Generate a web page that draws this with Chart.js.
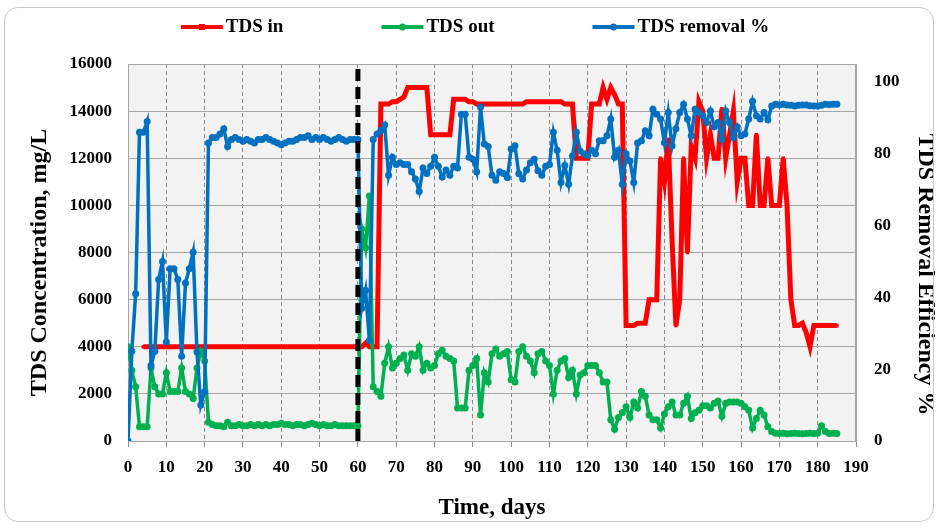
<!DOCTYPE html>
<html>
<head>
<meta charset="utf-8">
<title>TDS in / TDS out / TDS removal %</title>
<script src="https://cdn.jsdelivr.net/npm/chart.js@4.4.1/dist/chart.umd.min.js"></script>
<style>
  html, body { margin: 0; padding: 0; background: #fff; }
  #wrap { position: relative; width: 939px; height: 525px; }
  /* rounded chart-area frame like the spreadsheet export */
  #frame { position: absolute; left: 4px; top: 7px; width: 928px; height: 513px;
           border: 1px solid #c8c8c8; border-radius: 14px; pointer-events: none; }
</style>
</head>
<body>
<div id="wrap">
  <canvas id="tds-chart"></canvas>
  <div id="frame"></div>
</div>
<script>
// ---- data (one value per day, day = index) ----
const tdsIn = [
  null, null, null, null, 4000, 4000, 4000, 4000, 4000, 4000,
  4000, 4000, 4000, 4000, 4000, 4000, 4000, 4000, 4000, 4000,
  4000, 4000, 4000, 4000, 4000, 4000, 4000, 4000, 4000, 4000,
  4000, 4000, 4000, 4000, 4000, 4000, 4000, 4000, 4000, 4000,
  4000, 4000, 4000, 4000, 4000, 4000, 4000, 4000, 4000, 4000,
  4000, 4000, 4000, 4000, 4000, 4000, 4000, 4000, 4000, 4000,
  4000, 4000, 4150, 4000, 4000, 4000, 14300, 14300, 14300, 14400,
  14400, 14500, 14600, 15000, 15000, 15000, 15000, 15000, 15000, 13000,
  13000, 13000, 13000, 13000, 13000, 14500, 14500, 14500, 14500, 14400,
  14400, 14300, 14300, 14300, 14300, 14300, 14300, 14300, 14300, 14300,
  14300, 14300, 14300, 14300, 14400, 14400, 14400, 14400, 14400, 14400,
  14400, 14400, 14400, 14400, 14300, 14300, 14300, 12000, 12000, 12000,
  12000, 14300, 14300, 14300, 15000, 14500, 15000, 14700, 14300, 14300,
  4900, 4900, 4900, 5000, 5000, 5000, 6000, 6000, 6000, 12000,
  11000, 12800, 8500, 4900, 6000, 12000, 8000, 12500, 12000, 14400,
  14000, 12000, 13000, 12000, 12000, 14100, 12000, 13000, 14000, 11000,
  12000, 12000, 10000, 10000, 13000, 10000, 10000, 12000, 10000, 10000,
  10000, 12000, 10000, 6000, 4900, 4900, 5000, 4600, 4000, 4900,
  4900, 4900, 4900, 4900, 4900, 4900
];

const tdsOut = [
  4000, 3000, 2300, 600, 600, 600, 3100, 2300, 2000, 2000,
  2900, 2100, 2100, 2100, 3100, 2100, 2000, 1800, 3100, 3800,
  3400, 800, 700, 650, 650, 600, 800, 650, 650, 700,
  650, 650, 700, 650, 700, 650, 700, 650, 700, 700,
  750, 700, 700, 650, 700, 700, 650, 700, 750, 700,
  650, 700, 650, 650, 700, 650, 650, 650, 650, 650,
  650, 9000, 8200, 10400, 2300, 2100, 1900, 3300, 4000, 3100,
  3300, 3500, 3650, 3000, 3700, 3600, 4000, 3000, 3300, 3100,
  3200, 3700, 3850, 3600, 3500, 3400, 1400, 1400, 1400, 3000,
  3200, 3500, 1100, 2900, 2500, 3700, 3900, 3600, 3700, 3800,
  2600, 2500, 3800, 4000, 3600, 3400, 2900, 3700, 3800, 3400,
  3200, 2000, 3000, 3400, 3500, 2700, 3000, 2000, 2800, 2900,
  3200, 3200, 3200, 2900, 2500, 2500, 900, 500, 1000, 1200,
  1450, 1000, 1650, 1400, 2100, 1900, 1100, 900, 900, 550,
  1150, 1450, 1650, 1100, 1100, 1600, 1900, 950, 1200, 1300,
  1500, 1500, 1400, 1600, 1700, 1050, 1600, 1650, 1650, 1650,
  1600, 1450, 1300, 550, 950, 1300, 1100, 600, 400, 330,
  320, 330, 310, 320, 330, 320, 310, 320, 330, 320,
  330, 650, 400, 320, 330, 320
];

const removalPct = [
  0, 25, 41, 86, 86, 89, 21, 25, 45, 50,
  27.6, 48, 48, 45, 23.6, 44, 48, 52.6, 24.8, 10,
  13.7, 83, 84.5, 84.5, 85.5, 87, 82, 84, 84.5, 84,
  83.5, 84, 83.5, 83, 84, 84, 84.5, 84, 83.5, 83,
  82.5, 83, 83.5, 83.5, 84, 84.5, 84.5, 85, 84, 84.5,
  84, 84.5, 84, 83.5, 84, 84.5, 84, 83.5, 84, 84,
  84, 37, 42, 28, 84, 85.5, 86.5, 88, 74, 79,
  77, 77.5, 77, 77, 75, 73, 69.5, 76, 74.5, 76.5,
  79, 76.5, 73.5, 75.5, 74, 76.5, 76, 91, 91, 79,
  78.5, 75, 93, 82.7, 82, 74, 72.6, 75, 74.5, 73.4,
  81.3, 82.2, 74.4, 73, 75.5, 77.5, 78.5, 75.3, 74, 76.5,
  77, 86, 81, 72, 76.7, 71.5, 79.4, 86, 80.8, 80,
  79.5, 81, 80, 83.6, 83.6, 85, 89.7, 79, 81, 71.5,
  80, 78, 72, 83, 83.6, 86.4, 85, 92.4, 91, 89.7,
  83.1, 91.5, 82.2, 87, 91.5, 93.8, 89.7, 85, 92.4, 91.5,
  90.6, 88.7, 91.9, 87.5, 88.7, 84.1, 91.9, 88.7, 84.5, 87.5,
  85, 85.5, 89.7, 94.6, 90.6, 89.7, 91.5, 89.5, 93.3, 93.8,
  93.6, 93.8, 93.6, 93.5, 93.3, 93.5, 93.6, 93.6, 93.4, 93.3,
  93.3, 93.5, 93.8, 93.7, 93.8, 93.8
];

const phaseChangeDay = 60;   // dashed black separator
const seriesNames = ['TDS in', 'TDS out', 'TDS removal %'];
const rightTicks = [0, 20, 40, 60, 80, 100];
const leftTitle = 'TDS Concentration, mg/L';
const rightTitle = 'TDS Removal Efficiency %';

const days = tdsIn.map((v, i) => i);

const RED = '#ff0000';
const GREEN = '#00b050';
const BLUE = '#0070c0';
const SERIF = '"Liberation Serif", "Times New Roman", serif';

Chart.defaults.font.family = SERIF;
Chart.defaults.font.weight = 'bold';
Chart.defaults.color = '#000';

// grey plot background + solid frame round the plot
const plotFrame = {
  id: 'plotFrame',
  beforeDraw(chart) {
    const {ctx, chartArea: a} = chart;
    ctx.save();
    ctx.fillStyle = '#f2f2f2';
    ctx.fillRect(a.left, a.top, a.right - a.left, a.bottom - a.top);
    ctx.restore();
  },
  beforeDatasetsDraw(chart) {
    const {ctx, chartArea: a} = chart;
    ctx.save();
    ctx.strokeStyle = '#a6a6a6';
    ctx.lineWidth = 1;
    ctx.strokeRect(a.left + 0.5, a.top + 0.5, a.right - a.left - 1, a.bottom - a.top);
    ctx.restore();
  }
};

// vertical axis titles, sitting a bit below the plot middle as in the original
const axisTitles = {
  id: 'axisTitles',
  afterDraw(chart) {
    const {ctx, chartArea: a, scales} = chart;
    const midY = (a.top + a.bottom) / 2;
    ctx.save();
    ctx.font = 'bold 24px ' + SERIF;
    ctx.fillStyle = '#000';
    ctx.textAlign = 'center';
    ctx.textBaseline = 'middle';

    ctx.save();
    ctx.translate(scales.y.left + 40, midY + 10);
    ctx.rotate(-Math.PI / 2);
    ctx.fillText(leftTitle, 0, 0);
    ctx.restore();

    ctx.save();
    ctx.translate(scales.y1.right - 14, midY + 22);
    ctx.rotate(Math.PI / 2);
    ctx.fillText(rightTitle, 0, 0);
    ctx.restore();

    ctx.restore();
  }
};

// legend drawn as line + marker + label, spread out like the original
const lineLegend = {
  id: 'lineLegend',
  afterDraw(chart) {
    const ctx = chart.ctx;
    const items = chart.data.datasets.filter(d => !d.skipLegend);
    const lineLen = 42, textGap = 3, itemGap = 98, y = 27, centerX = 475;
    ctx.save();
    ctx.font = 'bold 19px ' + SERIF;
    const widths = items.map(d => lineLen + textGap + ctx.measureText(d.label).width);
    let x = centerX - (widths.reduce((s, w) => s + w, 0) + itemGap * (items.length - 1)) / 2;
    items.forEach((d, i) => {
      ctx.strokeStyle = d.borderColor;
      ctx.lineWidth = 4;
      ctx.beginPath();
      ctx.moveTo(x, y);
      ctx.lineTo(x + lineLen, y);
      ctx.stroke();
      ctx.fillStyle = d.borderColor;
      if (d.pointStyle === 'rect') {
        ctx.fillRect(x + lineLen / 2 - 3, y - 3, 6, 6);
      } else {
        ctx.beginPath();
        ctx.arc(x + lineLen / 2, y, 3.5, 0, Math.PI * 2);
        ctx.fill();
      }
      ctx.fillStyle = '#000';
      ctx.textAlign = 'left';
      ctx.textBaseline = 'middle';
      ctx.fillText(d.label, x + lineLen + textGap, y);
      x += widths[i] + itemGap;
    });
    ctx.restore();
  }
};

const data = {
  labels: days,
  datasets: [
    {
      label: seriesNames[0],
      data: tdsIn,
      yAxisID: 'y',
      borderColor: RED,
      backgroundColor: RED,
      borderWidth: 5,
      pointStyle: 'rect',
      pointRadius: 2.5,
      pointBorderWidth: 0,
      order: 3
    },
    {
      label: seriesNames[1],
      data: tdsOut,
      yAxisID: 'y',
      borderColor: GREEN,
      backgroundColor: GREEN,
      borderWidth: 3.5,
      pointStyle: 'circle',
      pointRadius: 3.5,
      pointBorderWidth: 0,
      order: 2
    },
    {
      label: seriesNames[2],
      data: removalPct,
      yAxisID: 'y1',
      borderColor: BLUE,
      backgroundColor: BLUE,
      borderWidth: 3.5,
      pointStyle: 'circle',
      pointRadius: 3.5,
      pointBorderWidth: 0,
      order: 1
    },
    {
      label: 'separator',
      skipLegend: true,
      data: [{x: phaseChangeDay, y: 0}, {x: phaseChangeDay, y: 16000}],
      yAxisID: 'y',
      borderColor: '#000',
      borderWidth: 5,
      borderDash: [12, 6],
      pointRadius: 0,
      order: 0
    }
  ]
};

const config = {
  type: 'line',
  data: data,
  options: {
    responsive: true,
    maintainAspectRatio: false,
    animation: false,
    devicePixelRatio: 1,
    layout: { padding: { top: 64, left: 0, right: 0, bottom: 0 } },
    plugins: {
      legend: { display: false },
      tooltip: { enabled: false }
    },
    elements: { line: { tension: 0 } },
    scales: {
      x: {
        type: 'linear',
        min: 0,
        max: 190,
        ticks: { stepSize: 10, padding: 10, font: { size: 17 }, callback: v => String(v) },
        grid: { color: '#8c8c8c', lineWidth: 1, tickLength: 6, tickColor: '#8c8c8c' },
        border: { display: true, color: '#a6a6a6', dash: [4, 3] },
        title: { display: true, text: 'Time, days', font: { size: 23 }, padding: { top: 0, bottom: 3 } },
        afterFit(s) { s.height = 84; }
      },
      y: {
        position: 'left',
        min: 0,
        max: 16000,
        ticks: { stepSize: 2000, padding: 16, font: { size: 17 }, callback: v => String(v) },
        grid: { color: '#a6a6a6', lineWidth: 1, drawTicks: false },
        border: { color: '#a6a6a6' },
        afterFit(s) { s.width = 128; }
      },
      y1: {
        position: 'right',
        min: 0,
        max: 105,
        ticks: { padding: 18, font: { size: 17 }, callback: v => String(v) },
        afterBuildTicks(s) { s.ticks = rightTicks.map(v => ({ value: v })); },
        grid: { drawOnChartArea: false, drawTicks: false },
        border: { color: '#a6a6a6' },
        afterFit(s) { s.width = 83; }
      }
    }
  },
  plugins: [plotFrame, axisTitles, lineLegend]
};

new Chart(document.getElementById('tds-chart'), config);
</script>
</body>
</html>
